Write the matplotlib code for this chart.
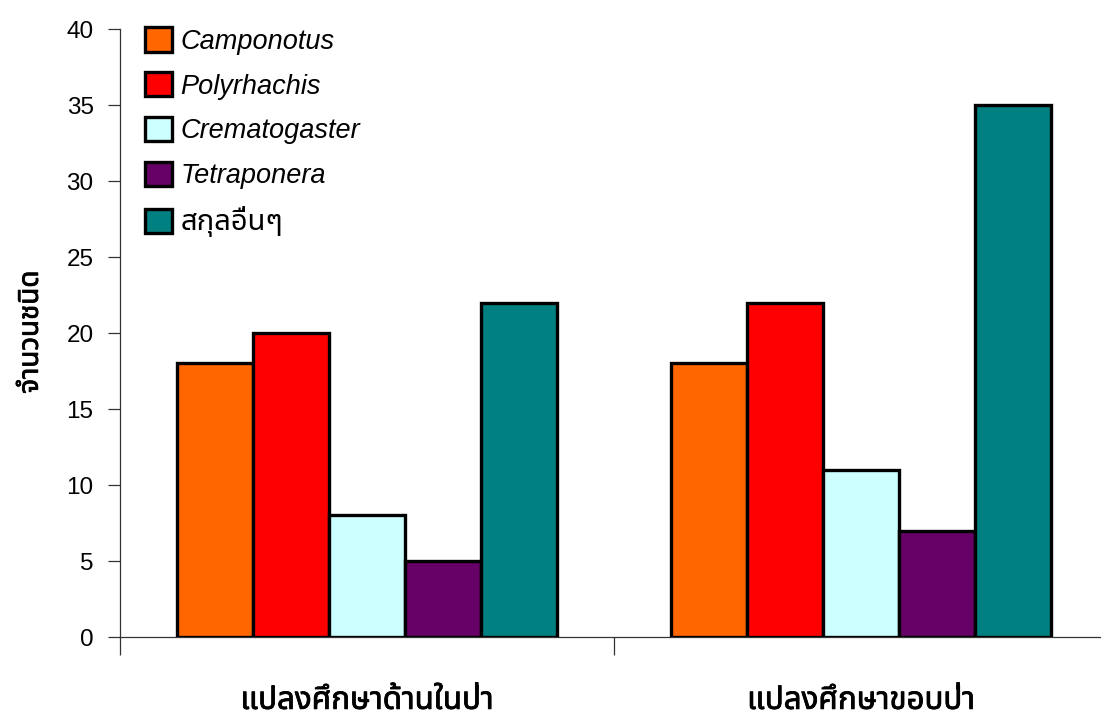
import matplotlib
matplotlib.use("Agg")
import matplotlib.pyplot as plt
from matplotlib import font_manager
from matplotlib.ft2font import FT2Font
from matplotlib.patches import Patch
import matplotlib.patheffects as pe
import numpy as np

# ---- data ----
plots = ["แปลงศึกษาด้านในป่า", "แปลงศึกษาขอบป่า"]
genera = ["Camponotus", "Polyrhachis", "Crematogaster", "Tetraponera", "สกุลอื่นๆ"]
camponotus = [18, 18]
polyrhachis = [20, 22]
crematogaster = [8, 11]
tetraponera = [5, 7]
others = [22, 35]
ylabel = "จำนวนชนิด"
yticks = [0, 5, 10, 15, 20, 25, 30, 35, 40]

colors = ["#FF6600", "#FF0000", "#CCFFFF", "#660066", "#008080"]


def find_thai_family():
    """Return the name of an installed family that covers Thai script."""
    preferred = ["Noto Sans Thai", "Noto Sans Thai UI", "Loma", "Garuda",
                 "Norasi", "Sawasdee", "Kinnari", "Waree", "Umpush",
                 "Tlwg Typo", "Noto Serif Thai"]
    found = []
    for f in font_manager.fontManager.ttflist:
        try:
            cmap = FT2Font(f.fname).get_charmap()
        except Exception:
            continue
        if 0x0E01 in cmap and 0x0E32 in cmap:
            found.append(f.name)
    for p in preferred:
        if p in found:
            return p
    return found[0] if found else None


thai = find_thai_family()
latin = "Liberation Sans"
thai_fam = [thai, latin, "DejaVu Sans"] if thai else [latin, "DejaVu Sans"]
# thicken the Thai headings (the family has no bold face)
heavy = [pe.withStroke(linewidth=0.6, foreground="black")]

plt.rcParams["font.family"] = [latin, "DejaVu Sans"]

fig = plt.figure(figsize=(11.01, 7.16), dpi=100)
ax = fig.add_axes([0.109, 0.1103, 0.8974, 0.849])

series = [camponotus, polyrhachis, crematogaster, tetraponera, others]
x = np.arange(len(plots))
width = 0.154
for i, (vals, c) in enumerate(zip(series, colors)):
    offs = (i - 2) * width
    ax.bar(x + offs, vals, width, color=c, edgecolor="black",
           linewidth=2.4, zorder=3)

ax.set_xlim(-0.5, 1.5)
ax.set_ylim(0, 40)
ax.set_yticks(yticks)
ax.set_yticklabels([str(t) for t in yticks], fontsize=17.5)
ax.tick_params(axis="y", direction="out", length=9, width=0.9, pad=10,
               color="#333333")

# category boundary ticks on the x axis
ax.set_xticks([-0.5, 0.5, 1.5])
ax.set_xticklabels([])
ax.tick_params(axis="x", direction="out", length=13, width=0.9,
               color="#333333")
for xi, lab in zip(x, plots):
    ax.text(xi, -0.105, lab, transform=ax.get_xaxis_transform(),
            ha="center", va="center", fontsize=22.5, fontweight="bold",
            family=thai_fam, path_effects=heavy)

for s in ["top", "right"]:
    ax.spines[s].set_visible(False)
for s in ["left", "bottom"]:
    ax.spines[s].set_linewidth(0.9)
    ax.spines[s].set_color("#333333")

fig.text(0.028, 0.536, ylabel, rotation=90, ha="center", va="center",
         fontsize=20, fontweight="bold", family=thai_fam, path_effects=heavy)

handles = [Patch(facecolor=c, edgecolor="black", linewidth=2.4)
           for c in colors]
leg = ax.legend(handles, genera, loc="upper left",
                bbox_to_anchor=(0.006, 1.034), frameon=False,
                handlelength=1.0, handleheight=1.0, handletextpad=0.32,
                labelspacing=0.64, fontsize=19.5, borderaxespad=0.3)
for t, name in zip(leg.get_texts(), genera):
    if name.isascii():
        t.set_fontstyle("italic")
    else:
        t.set_family(thai_fam)
        t.set_fontsize(21)

fig.savefig("out.png", dpi=100)
